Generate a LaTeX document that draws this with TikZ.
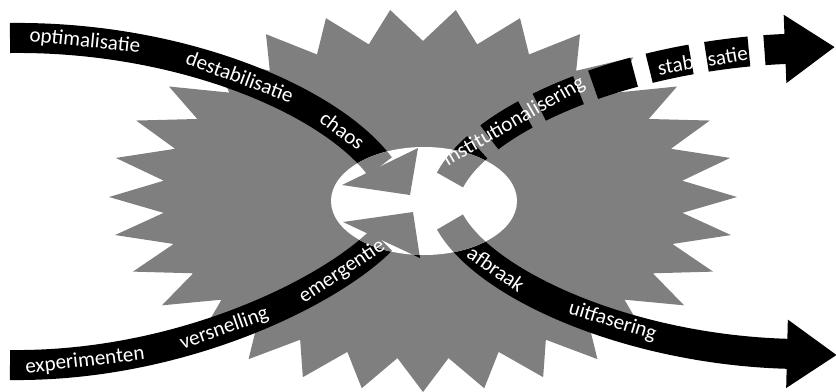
\documentclass[tikz,border=0pt]{standalone}
\usepackage{fontspec}
\setmainfont{Carlito}
\usepackage{tikz}
\usetikzlibrary{arrows.meta, calc}
\definecolor{burstGray}{HTML}{7F7F7F}
\tikzset{
    flow_band/.style={draw=black, line width=0.75cm},
    flow_band_dash/.style={flow_band, dash pattern=on 1.07cm off 0.39cm},
    head_out/.style={-{Triangle[length=1.25cm, width=1.62cm]}},
    lbl/.style={font=\fontsize{15}{18}\selectfont, text=white, sloped, inner sep=0pt}
}

\begin{document}
\begin{tikzpicture}[x=0.025cm, y=-0.025cm]
    \useasboundingbox (0,0) rectangle (836,391);

    % Burst in the background
    \fill[burstGray] (737,197)
        \foreach \k in {0,...,14} {
            -- ({423+0.83*314*cos(12*\k+6)}, {197-0.83*188*sin(12*\k+6)})
            -- ({423+314*cos(12*\k+12)}, {197-188*sin(12*\k+12)})
        }
        \foreach \k in {0,...,15} {
            -- ({423+0.83*314*cos(185.625+11.25*\k)}, {197-0.83*195*sin(185.625+11.25*\k)})
            -- ({423+314*cos(191.25+11.25*\k)}, {197-195*sin(191.25+11.25*\k)})
        } -- cycle;

    % Hub, ends and control points
    \coordinate (hub) at (424,201);
    \coordinate (optIn) at (10,38);
    \coordinate (optC1) at (180,36);
    \coordinate (optC2) at (330,100);
    \coordinate (chaosBarbL) at (342,185);
    \coordinate (chaosBarbR) at (418,148);
    \coordinate (chaosTip) at (410,195);
    \coordinate (chaosBase) at ($(chaosBarbL)!0.5!(chaosBarbR)$);
    \coordinate (expIn) at (10,365);
    \coordinate (expC1) at (180,367);
    \coordinate (expC2) at (330,292);
    \coordinate (emergBarbL) at (343,222);
    \coordinate (emergBarbR) at (420,258);
    \coordinate (emergTip) at (413,212);
    \coordinate (emergBase) at ($(emergBarbL)!0.5!(emergBarbR)$);
    \coordinate (instTail) at (450,180);
    \coordinate (instC1) at (485,115);
    \coordinate (instC2) at (630,55);
    \coordinate (stabOut) at (835,47);
    \coordinate (afbrTail) at (450,222);
    \coordinate (afbrC1) at (485,285);
    \coordinate (afbrC2) at (630,350);
    \coordinate (uitfOut) at (837,355);

    % Incoming flows (left)
    \draw[flow_band] (optIn) .. controls (optC1) and (optC2) .. (chaosBase);
    \fill (chaosBarbL) -- (chaosBarbR) -- (chaosTip) -- cycle;
    \draw[flow_band] (expIn) .. controls (expC1) and (expC2) .. (emergBase);
    \fill (emergBarbL) -- (emergBarbR) -- (emergTip) -- cycle;

    % Outgoing flows (right)
    \draw[flow_band_dash, head_out] (instTail) .. controls (instC1) and (instC2) .. (stabOut);
    \draw[flow_band, head_out] (afbrTail) .. controls (afbrC1) and (afbrC2) .. (uitfOut);

    % Open centre, flows turn gray inside it
    \fill[white] (hub) ellipse [x radius=93, y radius=54];
    \begin{scope}
        \clip (hub) ellipse [x radius=93, y radius=54];
        \draw[flow_band, draw=burstGray] (optIn) .. controls (optC1) and (optC2) .. (chaosBase);
        \fill[burstGray] (chaosBarbL) -- (chaosBarbR) -- (chaosTip) -- cycle;
        \draw[flow_band, draw=burstGray] (expIn) .. controls (expC1) and (expC2) .. (emergBase);
        \fill[burstGray] (emergBarbL) -- (emergBarbR) -- (emergTip) -- cycle;
        \draw[flow_band_dash, head_out, draw=burstGray] (instTail) .. controls (instC1) and (instC2) .. (stabOut);
        \draw[flow_band, head_out, draw=burstGray] (afbrTail) .. controls (afbrC1) and (afbrC2) .. (uitfOut);
    \end{scope}

    % Labels along the flows
    \path (optIn) .. controls (optC1) and (optC2) .. (chaosBase)
        node[lbl, pos=0.15] (optim) {optimalisatie}
        node[lbl, pos=0.5] (destab) {destabilisatie}
        node[lbl, pos=0.815] (chaos) {chaos};
    \path (expIn) .. controls (expC1) and (expC2) .. (emergBase)
        node[lbl, pos=0.15] (exper) {experimenten}
        node[lbl, pos=0.46] (versn) {versnelling}
        node[lbl, pos=0.81] (emerg) {emergentie};
    \path (instTail) .. controls (instC1) and (instC2) .. (stabOut)
        node[lbl, pos=0.315] (instit) {institutionalisering}
        node[lbl, pos=0.768] (stabil) {stabilisatie};
    \path (afbrTail) .. controls (afbrC1) and (afbrC2) .. (uitfOut)
        node[lbl, pos=0.25] (afbr) {afbraak}
        node[lbl, pos=0.58] (uitf) {uitfasering};
\end{tikzpicture}
\end{document}
